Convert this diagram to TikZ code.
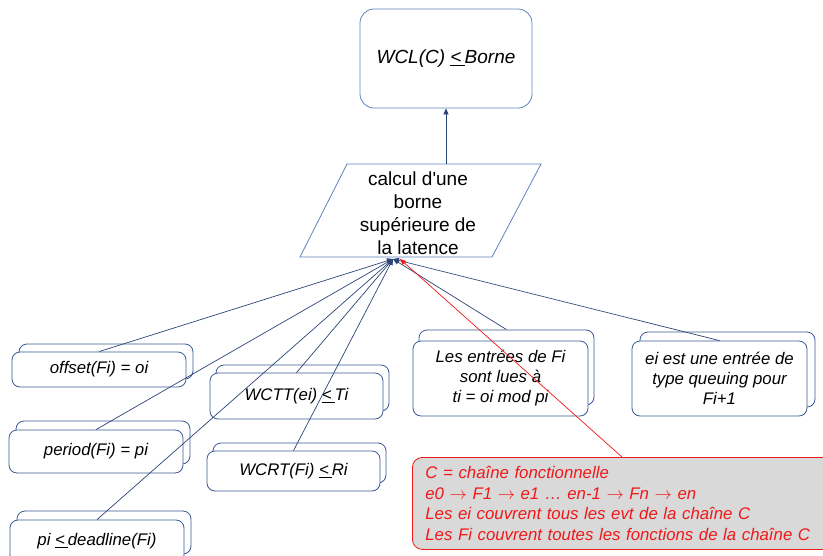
\documentclass[tikz,border=0pt]{standalone}
\usepackage{fontspec}
\setmainfont{Liberation Sans}
\usetikzlibrary{arrows.meta,calc}
\definecolor{navy}{HTML}{2C4577}
\definecolor{boxblue}{HTML}{3A5A94}
\definecolor{lightblue}{HTML}{5E84C0}
\definecolor{notegray}{HTML}{D9D9D9}
\definecolor{notered}{HTML}{F01818}
\tikzset{
  backbox/.style={draw=boxblue, line width=0.8pt, fill=white, rounded corners=8pt, inner sep=0pt},
  frontbox/.style={draw=boxblue, line width=0.8pt, fill=white, rounded corners=8pt, inner sep=0pt,
    align=center, font=\fontsize{16.8}{20}\selectfont\itshape},
  link/.style={draw=navy, line width=0.7pt, -{Triangle[length=6pt,width=5pt]}},
  redlink/.style={draw=notered, line width=0.7pt, -{Triangle[length=6pt,width=5pt]}},
  notebox/.style={draw=notered, line width=0.8pt, fill=notegray, rounded corners=10pt,
    inner xsep=13pt, inner ysep=0pt, text width=404pt,
    align=left, text=notered, font=\fontsize{16.8}{20.5}\selectfont\itshape, anchor=north west},
}
\newcommand{\rarr}{$\rightarrow$}
% name, cx, cy, w, h, dx, dy, text
\newcommand{\stackedbox}[8]{%
  \node[backbox, minimum width=#4, minimum height=#5] (#1b) at (#2+#6, #3+#7) {};
  \node[frontbox, minimum width=#4, minimum height=#5] (#1) at (#2, #3) {#8};
}
\begin{document}
\begin{tikzpicture}[x=1pt, y=-1pt]
\clip (0,0) rectangle (823,555);
\fill[white] (0,0) rectangle (823,555);

% top box
\node[draw=lightblue, line width=0.8pt, rounded corners=14pt, minimum width=172, minimum height=99,
  font=\fontsize{19}{23}\selectfont\itshape] (wcl) at (446,58.5) {\raisebox{-3pt}{WCL(C) \underline{<\,}Borne}};

% parallelogram
\draw[lightblue, line width=0.8pt] (347,164) -- (541,164) -- (492,257) -- (300,257) -- cycle;
\node[align=center, font=\fontsize{19}{23}\selectfont, inner sep=0pt] (calc) at (418,213)
  {calcul d\textquotesingle une\\borne\\supérieure de\\la latence};
\coordinate (ptop) at (446,164);
\coordinate (apex) at (393,259);
\coordinate (apexr) at (400,259);

% stacked boxes
\stackedbox{off}{99}{369.5}{174}{35}{7}{-8}{offset(Fi) = oi}
\stackedbox{per}{96}{451.5}{174}{43}{7}{-9}{period(Fi) = pi}
\stackedbox{dl}{97}{541.5}{174}{43}{7}{-9}{pi \underline{<\,}deadline(Fi)}
\stackedbox{wctt}{296.5}{396}{173}{46}{6}{-8}{WCTT(ei) \underline{<\,}Ti}
\stackedbox{wcrt}{293.5}{471}{173}{40}{6}{-8}{WCRT(Fi) \underline{<\,}Ri}
\stackedbox{ent}{500.5}{378.5}{175}{75}{6}{-11}{Les entrées de Fi\\sont lues à\\ti = oi mod pi}
\stackedbox{que}{719.5}{378.5}{175}{75}{8}{-9}{ei est une entrée de\\type queuing pour\\Fi+1}

% note
\node[notebox, minimum height=92] (note) at (412,457)
  {C = chaîne fonctionnelle\\
   e0 \rarr{} F1 \rarr{} e1 … en-1 \rarr{} Fn \rarr{} en\\
   Les ei couvrent tous les evt de la chaîne C\\
   Les Fi couvrent toutes les fonctions de la chaîne C};
\coordinate (notetop) at (622,457);

% connectors
\draw[link] (ptop) -- (wcl.south);
\draw[link] (off.north) -- (apex);
\draw[link] (per.north) -- (apex);
\draw[link] (dl.north) -- (apex);
\draw[link] (wctt.north) -- (apex);
\draw[link] (wcrt.north) -- (apex);
\draw[link] (entb.north) -- (apex);
\draw[link] (que.north) -- (apex);
\draw[redlink] (notetop) -- (apexr);
\end{tikzpicture}
\end{document}
